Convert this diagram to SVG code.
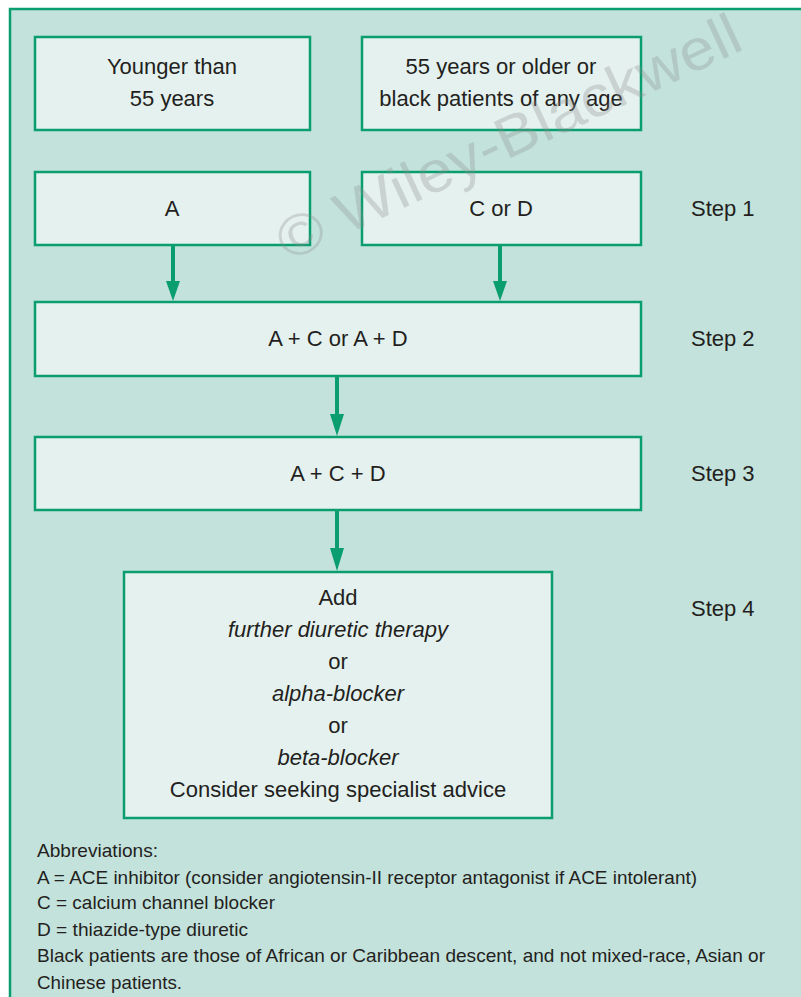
<svg xmlns="http://www.w3.org/2000/svg" width="801" height="997" viewBox="0 0 801 997">
<defs>
<style>
.bg{fill:#c3e2dc;stroke:#0a9e6e;stroke-width:2.5}
.box{fill:#e4f1ee;stroke:#0a9e6e;stroke-width:2.5}
.t{font-family:"Liberation Sans",Arial,sans-serif;font-size:22px;fill:#231f20;text-anchor:middle}
.i{font-style:italic}
.s{font-family:"Liberation Sans",Arial,sans-serif;font-size:22px;fill:#231f20}
.ab{font-family:"Liberation Sans",Arial,sans-serif;font-size:19px;fill:#231f20}
.c{stroke:#0a9e6e;stroke-width:4;fill:none}
.ah{fill:#0a9e6e}
.wm{font-family:"Liberation Sans",Arial,sans-serif;font-size:58px;fill:#8a8a8a;fill-opacity:0.3}
</style>
</defs>
<rect width="801" height="997" fill="#ffffff"/>
<rect class="bg" x="10" y="9" width="800" height="1000"/>

<g id="connectors">
<line class="c" x1="173" y1="246" x2="173" y2="284"/>
<path class="ah" d="M166,281 L180,281 L173,301 Z"/>
<line class="c" x1="500" y1="246" x2="500" y2="284"/>
<path class="ah" d="M493,281 L507,281 L500,301 Z"/>
<line class="c" x1="337" y1="377" x2="337" y2="418"/>
<path class="ah" d="M330,414 L344,414 L337,436 Z"/>
<line class="c" x1="337" y1="511" x2="337" y2="552"/>
<path class="ah" d="M330,548 L344,548 L337,571 Z"/>
</g>

<g id="young">
<rect class="box" x="35" y="37" width="275" height="93"/>
<text class="t" x="172" y="74">Younger than</text>
<text class="t" x="172" y="106">55 years</text>
</g>
<g id="old">
<rect class="box" x="362" y="37" width="279" height="93"/>
<text class="t" x="501" y="74">55 years or older or</text>
<text class="t" x="501" y="106">black patients of any age</text>
</g>
<g id="stepA">
<rect class="box" x="35" y="172" width="275" height="73"/>
<text class="t" x="172" y="216">A</text>
</g>
<g id="stepCD">
<rect class="box" x="362" y="172" width="279" height="73"/>
<text class="t" x="501" y="216">C or D</text>
</g>
<g id="step2">
<rect class="box" x="35" y="302" width="606" height="74"/>
<text class="t" x="338" y="346">A + C or A + D</text>
</g>
<g id="step3">
<rect class="box" x="35" y="437" width="606" height="73"/>
<text class="t" x="338" y="481">A + C + D</text>
</g>
<g id="step4">
<rect class="box" x="124" y="572" width="428" height="246"/>
<text class="t" x="338" y="605">Add</text>
<text class="t i" x="338" y="637">further diuretic therapy</text>
<text class="t" x="338" y="669">or</text>
<text class="t i" x="338" y="701">alpha-blocker</text>
<text class="t" x="338" y="733">or</text>
<text class="t i" x="338" y="765">beta-blocker</text>
<text class="t" x="338" y="797">Consider seeking specialist advice</text>
</g>

<g id="steps">
<text class="s" x="691" y="216">Step 1</text>
<text class="s" x="691" y="346">Step 2</text>
<text class="s" x="691" y="481">Step 3</text>
<text class="s" x="691" y="616">Step 4</text>
</g>

<g id="abbreviations">
<text class="ab" x="37" y="857" textLength="121" lengthAdjust="spacingAndGlyphs">Abbreviations:</text>
<text class="ab" x="37" y="884" textLength="660" lengthAdjust="spacingAndGlyphs">A = ACE inhibitor (consider angiotensin-II receptor antagonist if ACE intolerant)</text>
<text class="ab" x="37" y="909" textLength="238" lengthAdjust="spacingAndGlyphs">C = calcium channel blocker</text>
<text class="ab" x="37" y="936" textLength="211" lengthAdjust="spacingAndGlyphs">D = thiazide-type diuretic</text>
<text class="ab" x="37" y="962" textLength="728" lengthAdjust="spacingAndGlyphs">Black patients are those of African or Caribbean descent, and not mixed-race, Asian or</text>
<text class="ab" x="37" y="989" textLength="145" lengthAdjust="spacingAndGlyphs">Chinese patients.</text>
</g>

<text class="wm" transform="translate(288,262) rotate(-25)" textLength="505" lengthAdjust="spacingAndGlyphs">© Wiley-Blackwell</text>
</svg>
